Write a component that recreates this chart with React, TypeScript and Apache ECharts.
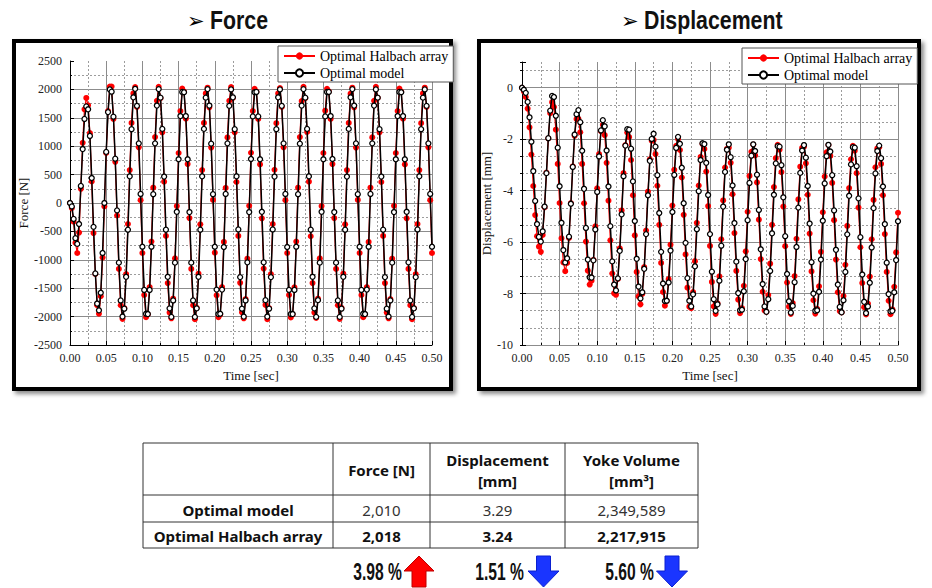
import React, { useEffect, useRef } from "react";
import * as echarts from "echarts";

// ---------------- data ----------------
const T_STEP = 0.0025; // sampling step of the time series [sec]
const SERIES_NAMES = ["Optimal Halbach array", "Optimal model"];

const FORCE_HALBACH = [
  0, -90, -330, -700, -880, -520, 250, 1060, 1650, 1850,
  1720, 1230, 380, -530, -1250, -1800, -1950, -1640, -960, -60,
  880, 1620, 2050, 2050, 1480, 725, -220, -1160, -1800, -2040,
  -1850, -1250, -370, 580, 1410, 1930, 2040, 1690, 980, 50,
  -880, -1620, -2010, -1960, -1480, -680, 270, 1160, 1800, 2045, 1845, 1245, 375, -580, -1410, -1930, -2030, -1685, -975, -55,
  880, 1620, 2015, 1960, 1485, 685, -265, -1160, -1800, -2045, -1845, -1245, -375, 580, 1410, 1930, 2030, 1685, 975, 55,
  -875, -1625, -2010, -1965, -1480, -685, 265, 1155, 1800, 2040, 1850, 1245, 370, -580, -1405, -1925, -2030, -1690, -980, -50,
  885, 1620, 2010, 1960, 1480, 680, -270, -1155, -1795, -2045, -1850, -1250, -370, 585, 1405, 1930, 2025, 1690, 980, 50,
  -880, -1620, -2015, -1960, -1485, -680, 270, 1160, 1795, 2045, 1845, 1250, 375, -585, -1410, -1930, -2025, -1685, -975, -55,
  880, 1625, 2010, 1965, 1480, 685, -265, -1160, -1800, -2040, -1845, -1245, -375, 580, 1410, 1925, 2030, 1685, 975, 55,
  -880, -1620, -2010, -1960, -1480, -685, 270, 1155, 1800, 2045, 1850, 1245, 370, -580, -1410, -1930, -2030, -1690, -980, -50,
  880, 1620, 2015, 1960, 1485, 680, -270, -1160, -1800, -2045, -1850, -1250, -370, 580, 1405, 1930, 2030, 1690, 980, 50,
  -880,
];

const FORCE_MODEL = [
  0, -60, -280, -620, -720, -370, 300, 950, 1480, 1700,
  1650, 1180, 440, -420, -1240, -1770, -1890, -1580, -880, 0,
  900, 1600, 2000, 1960, 1520, 780, -130, -1050, -1715, -2000,
  -1860, -1300, -470, 470, 1300, 1860, 2010, 1710, 1050, 160,
  -770, -1530, -1950, -1955, -1530, -770, 155, 1050, 1715, 2005, 1855, 1305, 465, -470, -1300, -1855, -2005, -1715, -1050, -155,
  770, 1530, 1955, 1950, 1530, 770, -160, -1050, -1715, -2005, -1855, -1300, -470, 470, 1305, 1855, 2005, 1715, 1045, 155,
  -770, -1525, -1955, -1950, -1525, -775, 160, 1050, 1710, 2000, 1860, 1300, 470, -465, -1305, -1860, -2000, -1715, -1045, -160,
  775, 1525, 1950, 1955, 1525, 770, -155, -1045, -1710, -2000, -1860, -1305, -465, 465, 1300, 1860, 2000, 1710, 1050, 160,
  -775, -1530, -1955, -1955, -1530, -770, 155, 1045, 1715, 2005, 1855, 1305, 470, -470, -1300, -1855, -2005, -1710, -1050, -155,
  770, 1525, 1955, 1955, 1530, 775, -160, -1050, -1715, -2005, -1860, -1300, -470, 465, 1305, 1860, 2005, 1715, 1050, 155,
  -770, -1530, -1950, -1955, -1525, -770, 160, 1050, 1715, 2000, 1855, 1300, 465, -470, -1305, -1860, -2000, -1715, -1050, -160,
  770, 1530, 1955, 1950, 1530, 770, -155, -1045, -1715, -2005, -1855, -1305, -465, 470, 1300, 1855, 2000, 1710, 1050, 160,
  -770,
];

const DISP_HALBACH = [
  0, -0.15, -0.36, -0.81, -1.54, -2.6, -3.82, -4.95, -5.77, -6.18,
  -6.38, -5.72, -4.65, -3.3, -1.97, -0.99, -0.56, -0.75, -1.63, -2.96,
  -4.48, -5.85, -6.79, -7.13, -6.81, -5.84, -4.48, -3.06, -1.87, -1.22,
  -1.21, -1.73, -2.96, -4.49, -5.98, -7.11, -7.65, -7.5, -6.69, -5.39,
  -3.91, -2.58, -1.69, -1.44, -1.84, -2.92, -4.39, -5.93, -7.22, -7.99,
  -8.05, -7.43, -6.24, -4.77, -3.32, -2.23, -1.74, -1.92, -2.81, -4.18,
  -5.74, -7.16, -8.11, -8.42, -8.01, -6.97, -5.55, -4.04, -2.78, -2.06,
  -2.03, -2.58, -3.81, -5.33, -6.81, -7.94, -8.47, -8.29, -7.44, -6.1,
  -4.58, -3.19, -2.26, -1.99, -2.42, -3.49, -4.94, -6.48, -7.77, -8.51,
  -8.57, -7.94, -6.74, -5.25, -3.8, -2.69, -2.19, -2.38, -3.26, -4.6,
  -6.15, -7.55, -8.5, -8.79, -8.38, -7.33, -5.89, -4.38, -3.1, -2.38,
  -2.33, -2.92, -4.14, -5.65, -7.12, -8.24, -8.76, -8.57, -7.7, -6.36,
  -4.82, -3.43, -2.49, -2.21, -2.63, -3.68, -5.13, -6.66, -7.93, -8.66,
  -8.71, -8.06, -6.84, -5.33, -3.86, -2.74, -2.22, -2.41, -3.28, -4.62,
  -6.16, -7.57, -8.51, -8.79, -8.37, -7.32, -5.87, -4.34, -3.07, -2.34,
  -2.29, -2.94, -4.16, -5.67, -7.14, -8.26, -8.78, -8.59, -7.72, -6.38,
  -4.84, -3.45, -2.51, -2.23, -2.65, -3.7, -5.15, -6.68, -7.95, -8.68,
  -8.73, -8.1, -6.88, -5.37, -3.9, -2.78, -2.26, -2.45, -3.32, -4.66,
  -6.2, -7.59, -8.53, -8.81, -8.39, -7.34, -5.89, -4.36, -3.09, -2.36,
  -2.31, -2.96, -4.18, -5.69, -7.16, -8.28, -8.8, -8.61, -7.74, -6.4,
  -4.86,
];

const DISP_MODEL = [
  0, -0.08, -0.2, -0.55, -1.15, -2.1, -3.24, -4.4, -5.3, -5.8,
  -5.98, -5.58, -4.62, -3.32, -1.96, -0.89, -0.32, -0.36, -1.09, -2.33,
  -3.83, -5.25, -6.31, -6.79, -6.63, -5.79, -4.51, -3.08, -1.82, -1.03,
  -0.87, -1.34, -2.45, -3.93, -5.45, -6.68, -7.37, -7.38, -6.71, -5.51,
  -4.05, -2.67, -1.66, -1.26, -1.5, -2.44, -3.84, -5.38, -6.75, -7.65,
  -7.88, -7.41, -6.34, -4.92, -3.44, -2.25, -1.61, -1.63, -2.37, -3.64,
  -5.18, -6.65, -7.73, -8.19, -7.95, -7.04, -5.69, -4.18, -2.84, -1.99,
  -1.79, -2.29, -3.4, -4.87, -6.38, -7.61, -8.29, -8.28, -7.57, -6.33,
  -4.83, -3.39, -2.34, -1.91, -2.18, -3.11, -4.49, -6.03, -7.4, -8.28,
  -8.5, -8.03, -6.94, -5.5, -4.02, -2.81, -2.16, -2.19, -2.92, -4.17,
  -5.69, -7.15, -8.22, -8.67, -8.42, -7.5, -6.14, -4.62, -3.27, -2.41,
  -2.2, -2.7, -3.8, -5.26, -6.76, -7.98, -8.65, -8.63, -7.91, -6.66,
  -5.15, -3.7, -2.64, -2.2, -2.46, -3.38, -4.75, -6.28, -7.63, -8.5,
  -8.71, -8.22, -7.12, -5.66, -4.16, -2.94, -2.27, -2.29, -3.01, -4.26,
  -5.77, -7.24, -8.3, -8.74, -8.48, -7.56, -6.19, -4.66, -3.31, -2.44,
  -2.23, -2.72, -3.82, -5.28, -6.78, -8.0, -8.67, -8.65, -7.93, -6.68,
  -5.17, -3.72, -2.66, -2.22, -2.48, -3.4, -4.77, -6.3, -7.65, -8.52,
  -8.73, -8.26, -7.16, -5.7, -4.2, -2.98, -2.31, -2.33, -3.05, -4.3,
  -5.81, -7.26, -8.32, -8.76, -8.5, -7.58, -6.21, -4.68, -3.33, -2.46,
  -2.25, -2.74, -3.84, -5.3, -6.8, -8.02, -8.69, -8.67, -7.95, -6.7,
  -5.19,
];

const TABLE_HEADERS = ["Force [N]", "Displacement\n[mm]", "Yoke Volume\n[mm³]"];
const TABLE_ROWS = ["Optimal model", "Optimal Halbach array"];
const MODEL_VALUES = ["2,010", "3.29", "2,349,589"];
const HALBACH_VALUES = ["2,018", "3.24", "2,217,915"];
const CHANGES = ["3.98 %", "1.51 %", "5.60 %"];
const CHANGE_UP = [true, false, false];

// ---------------- styles ----------------
const SERIF = "'Liberation Serif', 'Times New Roman', serif";
const HEAVY = "'Liberation Sans', Arial, sans-serif";
const SANS = "'Noto Sans', 'Noto Sans CJK KR', sans-serif";

const toPairs = (arr: number[]) => arr.map((v, i) => [Math.round(i * T_STEP * 10000) / 10000, v]);

const majorSplit = { show: true, showMaxLine: false, lineStyle: { color: "#8c8c8c", width: 1, type: "solid" } };
const minorSplit = { show: true, lineStyle: { color: "#9c9c9c", width: 1, type: [2, 2] } };
const axisLineStyle = { show: true, onZero: false, lineStyle: { color: "#000", width: 1 } };
const tickStyle = { show: true, inside: true, length: 4, lineStyle: { color: "#000", width: 1 } };
const minorTickStyle = { show: true, splitNumber: 2, length: 2, lineStyle: { color: "#000", width: 1 } };
const labelStyle = { fontFamily: SERIF, fontSize: 12, color: "#222" };
const nameStyle = { fontFamily: SERIF, fontSize: 13, color: "#111" };

function xAxisFor(gridIndex: number) {
  return {
    type: "value",
    gridIndex,
    min: 0,
    max: 0.5,
    interval: 0.05,
    name: "Time [sec]",
    nameLocation: "middle",
    nameGap: 24,
    nameTextStyle: nameStyle,
    axisLine: axisLineStyle,
    axisTick: tickStyle,
    minorTick: minorTickStyle,
    axisLabel: { ...labelStyle, margin: 7, formatter: (v: number) => v.toFixed(2) },
    splitLine: { ...majorSplit, showMaxLine: true },
    minorSplitLine: minorSplit,
  };
}

function redSeries(name: string, xi: number, yi: number, data: number[]) {
  return {
    type: "line",
    name,
    xAxisIndex: xi,
    yAxisIndex: yi,
    data: toPairs(data),
    symbol: "circle",
    symbolSize: 6,
    showSymbol: true,
    lineStyle: { color: "#ff0000", width: 1.2 },
    itemStyle: { color: "#ff0000", borderColor: "#ff0000", borderWidth: 0 },
    emphasis: { disabled: true },
    z: 2,
  };
}

function blackSeries(name: string, xi: number, yi: number, data: number[]) {
  return {
    type: "line",
    name,
    xAxisIndex: xi,
    yAxisIndex: yi,
    data: toPairs(data),
    symbol: "circle",
    symbolSize: 5,
    showSymbol: true,
    lineStyle: { color: "#000", width: 1.5 },
    itemStyle: { color: "#fff", borderColor: "#000", borderWidth: 1.3 },
    emphasis: { disabled: true },
    z: 3,
  };
}

function legendAt(left: number, top: number) {
  return {
    data: SERIES_NAMES,
    left,
    top,
    orient: "vertical",
    selectedMode: false,
    backgroundColor: "#fff",
    borderColor: "#555",
    borderWidth: 1,
    borderRadius: 0,
    padding: [3, 5, 2, 5],
    itemGap: 3,
    itemWidth: 31,
    itemHeight: 9,
    textStyle: { fontFamily: SERIF, fontSize: 14, color: "#000" },
  };
}

// ---------------- graphic: frames, titles, table ----------------
function buildGraphics() {
  const els: any[] = [];
  const frame = (x: number, y: number, w: number, h: number) => ({
    type: "rect",
    z: -10,
    shape: { x, y, width: w, height: h },
    style: {
      fill: "#fff",
      stroke: "#000",
      lineWidth: 4,
      shadowBlur: 4,
      shadowOffsetX: 3,
      shadowOffsetY: 3,
      shadowColor: "rgba(0,0,0,0.45)",
    },
  });
  els.push(frame(14, 41, 437, 348));
  els.push(frame(479, 41, 440, 348));

  const title = (ax: number, tx: number, text: string) => {
    els.push({
      type: "text",
      x: ax,
      y: 21,
      style: { text: "➢", fontSize: 21, fontFamily: "'DejaVu Sans', sans-serif", fill: "#000", verticalAlign: "middle", textVerticalAlign: "middle" },
    });
    els.push({
      type: "text",
      x: tx,
      y: 20,
      scaleX: 0.82,
      style: { text, fontSize: 26, fontWeight: "bold", fontFamily: HEAVY, fill: "#111", verticalAlign: "middle", textVerticalAlign: "middle" },
    });
  };
  title(187, 210, "Force");
  title(621, 644, "Displacement");

  // table
  const COLS = [143, 333, 430, 565, 698];
  const ROWS = [443, 495, 522, 548];
  ROWS.forEach((y) => {
    els.push({ type: "line", shape: { x1: COLS[0], y1: y, x2: COLS[4], y2: y }, style: { stroke: "#333", lineWidth: 1 } });
  });
  COLS.forEach((x) => {
    els.push({ type: "line", shape: { x1: x, y1: ROWS[0], x2: x, y2: ROWS[3] }, style: { stroke: "#333", lineWidth: 1 } });
  });
  const cellText = (cx: number, cy: number, text: string, bold: boolean, color = "#111") => ({
    type: "text",
    x: cx,
    y: cy,
    style: {
      text,
      fontSize: 15,
      lineHeight: 21,
      fontWeight: bold ? "bold" : "normal",
      fontFamily: SANS,
      fill: color,
      align: "center",
      textAlign: "center",
      verticalAlign: "middle",
      textVerticalAlign: "middle",
    },
  });
  TABLE_HEADERS.forEach((h, i) => {
    const cx = (COLS[i + 1] + COLS[i + 2]) / 2;
    els.push(cellText(cx, (ROWS[0] + ROWS[1]) / 2 + 1, h, true));
  });
  TABLE_ROWS.forEach((r, j) => {
    const cy = (ROWS[j + 1] + ROWS[j + 2]) / 2 + 1;
    els.push(cellText((COLS[0] + COLS[1]) / 2, cy, r, true));
    const vals = j === 0 ? MODEL_VALUES : HALBACH_VALUES;
    vals.forEach((v, i) => {
      els.push(cellText((COLS[i + 1] + COLS[i + 2]) / 2, cy, v, j === 1, j === 0 ? "#333" : "#111"));
    });
  });

  // change percentages with arrows
  const TEXT_RIGHT = [402, 524, 654];
  const ARROW_CX = [419, 543.5, 672];
  CHANGES.forEach((c, i) => {
    els.push({
      type: "text",
      x: TEXT_RIGHT[i],
      y: 572,
      scaleX: 0.68,
      style: {
        text: c,
        fontSize: 23,
        fontWeight: "bold",
        fontFamily: HEAVY,
        fill: "#111",
        align: "right",
        textAlign: "right",
        verticalAlign: "middle",
        textVerticalAlign: "middle",
      },
    });
    const cx = ARROW_CX[i];
    if (CHANGE_UP[i]) {
      els.push({
        type: "polygon",
        shape: {
          points: [
            [cx, 556], [cx + 15, 571], [cx + 7, 571], [cx + 7, 587],
            [cx - 7, 587], [cx - 7, 571], [cx - 15, 571],
          ],
        },
        style: { fill: "#ff0000", stroke: "#c00000", lineWidth: 1 },
      });
    } else {
      els.push({
        type: "polygon",
        shape: {
          points: [
            [cx - 7, 556], [cx + 7, 556], [cx + 7, 571], [cx + 15.5, 571],
            [cx, 587], [cx - 15.5, 571], [cx - 7, 571],
          ],
        },
        style: { fill: "#1a35ff", stroke: "#0a20d0", lineWidth: 1 },
      });
    }
  });
  return els;
}

function buildOption(): any {
  return {
    animation: false,
    backgroundColor: "#fff",
    grid: [
      { left: 70, top: 61, width: 362, height: 284, outerBoundsMode: "none", containLabel: false },
      { left: 522, top: 62, width: 376, height: 283, outerBoundsMode: "none", containLabel: false },
    ],
    xAxis: [xAxisFor(0), xAxisFor(1)],
    yAxis: [
      {
        type: "value",
        gridIndex: 0,
        min: -2500,
        max: 2500,
        interval: 500,
        name: "Force [N]",
        nameLocation: "middle",
        nameGap: 33,
        nameTextStyle: nameStyle,
        axisLine: axisLineStyle,
        axisTick: tickStyle,
        minorTick: minorTickStyle,
        axisLabel: { ...labelStyle, margin: 8, formatter: (v: number) => String(v) },
        splitLine: majorSplit,
        minorSplitLine: minorSplit,
      },
      {
        type: "value",
        gridIndex: 1,
        min: -10,
        max: 1,
        interval: 2,
        name: "Displacement [mm]",
        nameLocation: "middle",
        nameGap: 24,
        nameTextStyle: nameStyle,
        axisLine: axisLineStyle,
        axisTick: tickStyle,
        axisLabel: { ...labelStyle, margin: 9, formatter: (v: number) => (v > 0.5 ? "" : String(v)) },
        splitLine: majorSplit,
        z: 1,
      },
      {
        type: "value",
        gridIndex: 1,
        min: -10,
        max: 1,
        interval: 2 / 3,
        axisLine: { show: false },
        axisTick: { show: true, inside: true, length: 2, lineStyle: { color: "#000" } },
        axisLabel: { show: false },
        splitLine: { show: true, showMaxLine: false, lineStyle: { color: "#9c9c9c", width: 1, type: [2, 2] } },
        z: 0,
      },
    ],
    legend: [legendAt(278, 46), legendAt(742, 48)],
    series: [
      redSeries(SERIES_NAMES[0], 0, 0, FORCE_HALBACH),
      blackSeries(SERIES_NAMES[1], 0, 0, FORCE_MODEL),
      redSeries(SERIES_NAMES[0], 1, 1, DISP_HALBACH),
      blackSeries(SERIES_NAMES[1], 1, 1, DISP_MODEL),
    ],
    graphic: { elements: buildGraphics() },
  };
}

export default function App() {
  const ref = useRef<HTMLDivElement>(null);
  useEffect(() => {
    if (!ref.current) return;
    const chart = echarts.init(ref.current, null, { renderer: "svg" });
    chart.setOption(buildOption());
    return () => chart.dispose();
  }, []);
  return (
    <div
      ref={ref}
      style={{ position: "absolute", left: 0, top: 0, width: 932, height: 588, background: "#fff" }}
    />
  );
}
